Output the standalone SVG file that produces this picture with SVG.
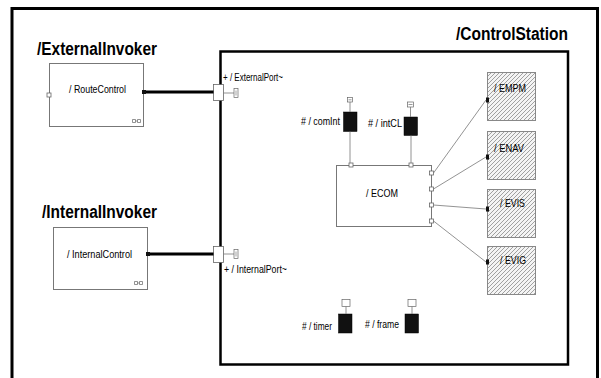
<svg xmlns="http://www.w3.org/2000/svg" width="601" height="378" viewBox="0 0 601 378">
<style>
.title{font-family:"Liberation Sans",Arial,sans-serif;font-weight:bold;font-size:17.5px;fill:#000}
.lbl{font-family:"Liberation Sans",Arial,sans-serif;font-size:10.5px;fill:#000}
.box{fill:#fff;stroke:#777;stroke-width:1}
.hatch{fill:url(#hatch);stroke:#888;stroke-width:1}
.port{fill:#fff;stroke:#666;stroke-width:0.8}
.bport{fill:#111;stroke:none}
.part{fill:#111;stroke:#000;stroke-width:0.5}
.thin{fill:none;stroke:#777;stroke-width:0.8}
.thick{fill:none;stroke:#000;stroke-width:3}
.icon{fill:#fff;stroke:#666;stroke-width:0.7}
.frame{fill:none;stroke:#000;stroke-width:3}
</style>
<defs>
<pattern id="hatch" patternUnits="userSpaceOnUse" width="4" height="4">
<rect width="4" height="4" fill="#f4f4f4"/>
<path d="M-1,1 l2,-2 M0,4 l4,-4 M3,5 l2,-2" stroke="#8a8a8a" stroke-width="0.8"/>
</pattern>
</defs>
<rect width="601" height="378" fill="#fff"/>
<path class="frame" d="M12,378 V8.5 H597.5 V378"/>

<g id="ExternalInvoker">
<text class="title" x="37" y="55" textLength="120" lengthAdjust="spacingAndGlyphs">/ExternalInvoker</text>
<g id="RouteControl">
<rect class="box" x="49.5" y="63.5" width="94" height="63"/>
<text class="lbl" x="69" y="93" textLength="57" lengthAdjust="spacingAndGlyphs">/ RouteControl</text>
<rect class="port" x="47" y="93" width="4" height="4"/>
<rect class="bport" x="142" y="90" width="4" height="4"/>
<path class="icon" d="M132.5,119.5h3v3h-3z M137.5,119.5h3v3h-3z M135.5,121h2"/>
</g>
</g>

<g id="InternalInvoker">
<text class="title" x="42" y="218" textLength="115" lengthAdjust="spacingAndGlyphs">/InternalInvoker</text>
<g id="InternalControl">
<rect class="box" x="53.5" y="227.5" width="94" height="62"/>
<text class="lbl" x="67" y="258" textLength="65" lengthAdjust="spacingAndGlyphs">/ InternalControl</text>
<rect class="bport" x="146" y="252" width="4" height="4"/>
<path class="icon" d="M134.5,281.5h3v3h-3z M139.5,281.5h3v3h-3z M137.5,283h2"/>
</g>
</g>

<g id="ControlStation">
<text class="title" x="456" y="40" textLength="112" lengthAdjust="spacingAndGlyphs">/ControlStation</text>
<rect x="220.5" y="51.5" width="347.5" height="313" fill="none" stroke="#000" stroke-width="2.5"/>
</g>

<g id="ExternalPort">
<rect class="port" x="213.5" y="84.5" width="10" height="16" stroke="#555"/>
<path class="thin" d="M223.5,93 H234"/>
<rect class="icon" x="234" y="88.5" width="4" height="9"/>
<path d="M236,90.5v5" stroke="#666" stroke-width="0.6"/>
<text class="lbl" x="223" y="81" textLength="60" lengthAdjust="spacingAndGlyphs">+ / ExternalPort~</text>
</g>

<g id="InternalPort">
<rect class="port" x="213.5" y="246.5" width="10" height="16" stroke="#555"/>
<path class="thin" d="M223.5,254 H234"/>
<rect class="icon" x="234" y="249.5" width="4" height="9"/>
<path d="M236,251.5v5" stroke="#666" stroke-width="0.6"/>
<text class="lbl" x="224" y="273" textLength="63" lengthAdjust="spacingAndGlyphs">+ / InternalPort~</text>
</g>

<g id="ECOM">
<rect class="box" x="336.5" y="165.5" width="95" height="61"/>
<text class="lbl" x="366" y="197" textLength="32" lengthAdjust="spacingAndGlyphs">/ ECOM</text>
<rect class="port" x="349" y="163" width="4" height="4"/>
<rect class="port" x="409" y="163" width="4" height="4"/>
<rect class="port" x="429.5" y="171" width="4" height="4"/>
<rect class="port" x="429.5" y="187" width="4" height="4"/>
<rect class="port" x="429.5" y="203" width="4" height="4"/>
<rect class="port" x="429.5" y="219" width="4" height="4"/>
</g>

<g id="comInt">
<rect class="icon" x="347.5" y="97.5" width="5" height="4.5"/>
<path d="M348.5,99.8h3" stroke="#555" stroke-width="0.6"/>
<rect class="part" x="343.5" y="112" width="13.5" height="19.5"/>
<text class="lbl" x="301" y="125" textLength="39" lengthAdjust="spacingAndGlyphs"># / comInt</text>
</g>

<g id="intCL">
<rect class="icon" x="407.5" y="102" width="6" height="5"/>
<path d="M408.5,104.5h4" stroke="#555" stroke-width="0.6"/>
<rect class="part" x="404" y="117" width="13.5" height="18.5"/>
<text class="lbl" x="368" y="127" textLength="34" lengthAdjust="spacingAndGlyphs"># / intCL</text>
</g>

<g id="timer">
<rect class="icon" x="342" y="299.5" width="8" height="7"/>
<rect class="part" x="338.5" y="314" width="13.5" height="19"/>
<text class="lbl" x="302" y="330" textLength="30" lengthAdjust="spacingAndGlyphs"># / timer</text>
</g>

<g id="frame">
<rect class="icon" x="408" y="299.5" width="8" height="7"/>
<rect class="part" x="405" y="314" width="13.5" height="19"/>
<text class="lbl" x="365" y="328" textLength="34" lengthAdjust="spacingAndGlyphs"># / frame</text>
</g>

<g id="EMPM">
<rect class="hatch" x="487.5" y="72.5" width="48" height="48"/>
<rect class="bport" x="486" y="97.5" width="3" height="5"/>
<text class="lbl" x="494" y="92" textLength="32" lengthAdjust="spacingAndGlyphs">/ EMPM</text>
</g>
<g id="ENAV">
<rect class="hatch" x="487.5" y="131.5" width="48" height="48"/>
<rect class="bport" x="486" y="154.5" width="3" height="5"/>
<text class="lbl" x="494" y="152" textLength="30" lengthAdjust="spacingAndGlyphs">/ ENAV</text>
</g>
<g id="EVIS">
<rect class="hatch" x="487.5" y="189.5" width="48" height="48"/>
<rect class="bport" x="486" y="206.5" width="3" height="5"/>
<text class="lbl" x="500" y="207" textLength="25" lengthAdjust="spacingAndGlyphs">/ EVIS</text>
</g>
<g id="EVIG">
<rect class="hatch" x="487.5" y="246.5" width="48" height="48"/>
<rect class="bport" x="486" y="259.5" width="3" height="5"/>
<text class="lbl" x="500" y="264" textLength="26" lengthAdjust="spacingAndGlyphs">/ EVIG</text>
</g>

<g id="connectors">
<path class="thick" d="M146,92 H213.5"/>
<path class="thick" d="M150,254 H213.5"/>
<path class="thin" d="M350,102 V112 M350,131.5 V163"/>
<path class="thin" d="M410.5,107 V117 M411,135.5 V163"/>
<path class="thin" d="M346,306.5 V314 M412,306.5 V314"/>
<path class="thin" d="M433.5,173 L486,100"/>
<path class="thin" d="M433.5,189 L486,157"/>
<path class="thin" d="M433.5,205 L486,209"/>
<path class="thin" d="M433.5,221 L486,262"/>
</g>
</svg>
